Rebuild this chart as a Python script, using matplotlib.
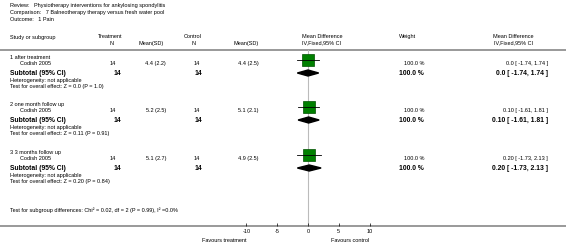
import matplotlib
matplotlib.use('Agg')
import matplotlib.pyplot as plt
from matplotlib.patches import Polygon

plt.rcParams['font.family'] = ['Liberation Sans', 'DejaVu Sans']

# data
subgroups = ['1 after treatment', '2 one month follow up', '3 3 months follow up']
studies = ['Codish 2005', 'Codish 2005', 'Codish 2005']
treat_n = [14, 14, 14]
treat_mean = [4.4, 5.2, 5.1]
treat_sd = [2.2, 2.5, 2.7]
ctrl_n = [14, 14, 14]
ctrl_mean = [4.4, 5.1, 4.9]
ctrl_sd = [2.5, 2.1, 2.5]
md = [0.0, 0.10, 0.20]
md_lo = [-1.74, -1.61, -1.73]
md_hi = [1.74, 1.81, 2.13]
md_txt = ['0.0', '0.10', '0.20']
weights = [100.0, 100.0, 100.0]
z_vals = ['0.0', '0.11', '0.20']
p_vals = ['1.0', '0.91', '0.84']
axis_ticks = [-10, -5, 0, 5, 10]

W, H = 566, 249
fig = plt.figure(figsize=(W / 100, H / 100), dpi=100)
bg = fig.add_axes([0, 0, 1, 1])
bg.set_xlim(0, W)
bg.set_ylim(H, 0)
bg.axis('off')

small = 4.0
big = 4.9
grey = '#999999'

# header
bg.text(10, 5, 'Review:   Physiotherapy interventions for ankylosing spondylitis', fontsize=small, va='center')
bg.text(10, 12, 'Comparison:   7 Balneotherapy therapy versus fresh water pool', fontsize=small, va='center')
bg.text(10, 19, 'Outcome:   1 Pain', fontsize=small, va='center')

bg.text(10, 37, 'Study or subgroup', fontsize=small, va='center')
bg.text(110, 36, 'Treatment', fontsize=small, va='center', ha='center')
bg.text(112, 43, 'N', fontsize=small, va='center', ha='center')
bg.text(151, 43, 'Mean(SD)', fontsize=small, va='center', ha='center')
bg.text(193, 36, 'Control', fontsize=small, va='center', ha='center')
bg.text(194, 43, 'N', fontsize=small, va='center', ha='center')
bg.text(246, 43, 'Mean(SD)', fontsize=small, va='center', ha='center')
bg.text(322, 36, 'Mean Difference', fontsize=small, va='center', ha='center')
bg.text(322, 43, 'IV,Fixed,95% CI', fontsize=small, va='center', ha='center')
bg.text(408, 36, 'Weight', fontsize=small, va='center', ha='center')
bg.text(513, 36, 'Mean Difference', fontsize=small, va='center', ha='center')
bg.text(513, 43, 'IV,Fixed,95% CI', fontsize=small, va='center', ha='center')
bg.plot([0, W], [49.5, 49.5], color=grey, lw=1.4, solid_capstyle='butt')

# forest axes: 0 at x=308, 6.15 px per unit
x0, scale = 308, 6.15
left_px, right_px = 190, 430
fa = fig.add_axes([left_px / W, (H - 226) / H, (right_px - left_px) / W, (226 - 50) / H])
fa.set_xlim((left_px - x0) / scale, (right_px - x0) / scale)
fa.set_ylim(226, 50)
for s in fa.spines.values():
    s.set_visible(False)
fa.patch.set_visible(False)
fa.set_yticks([])
fa.set_xticks(axis_ticks)
fa.set_xticklabels([str(t) for t in axis_ticks])
fa.tick_params(axis='x', direction='in', length=2, width=0.5, labelsize=small, pad=2)
fa.axvline(0, color='#bbbbbb', lw=0.8, zorder=1)

group_y0 = [57, 104, 152]
for i, name in enumerate(subgroups):
    y = group_y0[i]
    ys = y + 6
    ysub = y + 16
    bg.text(10, y, name, fontsize=small, va='center')
    bg.text(20, ys, studies[i], fontsize=small, va='center')
    bg.text(116, ys, str(treat_n[i]), fontsize=small, va='center', ha='right')
    bg.text(166, ys, f'{treat_mean[i]} ({treat_sd[i]})', fontsize=small, va='center', ha='right')
    bg.text(200, ys, str(ctrl_n[i]), fontsize=small, va='center', ha='right')
    bg.text(259, ys, f'{ctrl_mean[i]} ({ctrl_sd[i]})', fontsize=small, va='center', ha='right')
    bg.text(424, ys, f'{weights[i]:.1f} %', fontsize=small, va='center', ha='right')
    bg.text(548, ys, f'{md_txt[i]} [ {md_lo[i]:.2f}, {md_hi[i]:.2f} ]', fontsize=small, va='center', ha='right')

    bg.text(10, ysub, 'Subtotal (95% CI)', fontsize=big, fontweight='bold', va='center')
    bg.text(121, ysub, str(treat_n[i]), fontsize=big, fontweight='bold', va='center', ha='right')
    bg.text(202, ysub, str(ctrl_n[i]), fontsize=big, fontweight='bold', va='center', ha='right')
    bg.text(424, ysub, f'{weights[i]:.1f} %', fontsize=big, fontweight='bold', va='center', ha='right')
    bg.text(548, ysub, f'{md_txt[i]} [ {md_lo[i]:.2f}, {md_hi[i]:.2f} ]', fontsize=big, fontweight='bold', va='center', ha='right')
    bg.text(10, ysub + 7, 'Heterogeneity: not applicable', fontsize=small, va='center')
    bg.text(10, ysub + 13, f'Test for overall effect: Z = {z_vals[i]} (P = {p_vals[i]})', fontsize=small, va='center')

    # study estimate
    fa.plot([md_lo[i], md_hi[i]], [ys - 3, ys - 3], color='black', lw=0.6, zorder=4)
    fa.plot([md[i]], [ys - 3], marker='s', markersize=9, color='#008000',
            markeredgecolor='#005000', markeredgewidth=0.5, zorder=3)
    # pooled diamond
    yd = ysub
    fa.add_patch(Polygon([[md_lo[i], yd], [md[i], yd - 3], [md_hi[i], yd], [md[i], yd + 3]],
                         closed=True, color='black', zorder=4))

bg.text(10, 210, 'Test for subgroup differences: Chi\u00b2 = 0.02, df = 2 (P = 0.99), I\u00b2 =0.0%', fontsize=small, va='center')
bg.plot([0, W], [226, 226], color=grey, lw=1.4, solid_capstyle='butt', zorder=0)
bg.text(x0 - 10 * scale, 240, 'Favours treatment', fontsize=small, va='center', ha='right')
bg.text(x0 + 10 * scale, 240, 'Favours control', fontsize=small, va='center', ha='right')

fig.savefig('out.png', dpi=100)
